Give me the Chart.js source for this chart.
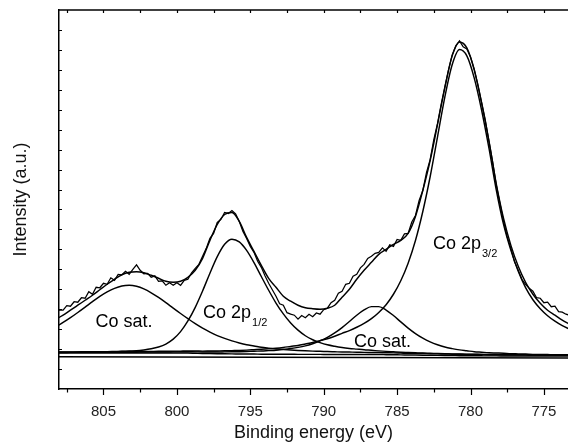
<!DOCTYPE html>
<html>
<head>
<meta charset="utf-8">
<script src="https://cdn.jsdelivr.net/npm/chart.js@4.4.1/dist/chart.umd.min.js"></script>
<style>
  html, body { margin: 0; padding: 0; background: #fff; }
  #wrap { width: 568px; height: 447px; position: relative; }
</style>
</head>
<body>
<div id="wrap"><canvas id="xps"></canvas></div>
<script>
// Co 2p XPS spectrum with peak fit (binding energy runs right-to-left)
const FONT = 'Arial, "Liberation Sans", sans-serif';

// fit grid (eV), 0.5 eV steps
const energies = [808.25, 807.75, 807.25, 806.75, 806.25, 805.75, 805.25, 804.75, 804.25, 803.75,
  803.25, 802.75, 802.25, 801.75, 801.25, 800.75, 800.25, 799.75, 799.25, 798.75,
  798.25, 797.75, 797.25, 796.75, 796.25, 795.75, 795.25, 794.75, 794.25, 793.75,
  793.25, 792.75, 792.25, 791.75, 791.25, 790.75, 790.25, 789.75, 789.25, 788.75,
  788.25, 787.75, 787.25, 786.75, 786.25, 785.75, 785.25, 784.75, 784.25, 783.75,
  783.25, 782.75, 782.25, 781.75, 781.25, 780.75, 780.25, 779.75, 779.25, 778.75,
  778.25, 777.75, 777.25, 776.75, 776.25, 775.75, 775.25, 774.75, 774.25, 773.75, 773.25];

// measured spectrum (eV), 0.25 eV steps
const rawEnergies = [808.25, 808, 807.75, 807.5, 807.25, 807, 806.75, 806.5, 806.25, 806,
  805.75, 805.5, 805.25, 805, 804.75, 804.5, 804.25, 804, 803.75, 803.5,
  803.25, 803, 802.75, 802.5, 802.25, 802, 801.75, 801.5, 801.25, 801,
  800.75, 800.5, 800.25, 800, 799.75, 799.5, 799.25, 799, 798.75, 798.5,
  798.25, 798, 797.75, 797.5, 797.25, 797, 796.75, 796.5, 796.25, 796,
  795.75, 795.5, 795.25, 795, 794.75, 794.5, 794.25, 794, 793.75, 793.5,
  793.25, 793, 792.75, 792.5, 792.25, 792, 791.75, 791.5, 791.25, 791,
  790.75, 790.5, 790.25, 790, 789.75, 789.5, 789.25, 789, 788.75, 788.5,
  788.25, 788, 787.75, 787.5, 787.25, 787, 786.75, 786.5, 786.25, 786,
  785.75, 785.5, 785.25, 785, 784.75, 784.5, 784.25, 784, 783.75, 783.5,
  783.25, 783, 782.75, 782.5, 782.25, 782, 781.75, 781.5, 781.25, 781,
  780.75, 780.5, 780.25, 780, 779.75, 779.5, 779.25, 779, 778.75, 778.5,
  778.25, 778, 777.75, 777.5, 777.25, 777, 776.75, 776.5, 776.25, 776,
  775.75, 775.5, 775.25, 775, 774.75, 774.5, 774.25, 774, 773.75, 773.5, 773.25];

const rawCounts = [78, 79, 79, 83.5, 83, 87.5, 87, 91.5, 91, 97.5,
  95, 102, 101.5, 106, 105, 111.5, 109, 115, 114.5, 118,
  115, 120, 124.5, 119, 115.5, 116, 112, 113.5, 108, 108.5,
  104, 106.5, 104, 106.5, 104, 109, 110, 116.5, 121, 125,
  133, 141, 151, 156, 167, 170, 177, 176, 179, 175.5,
  168, 158, 151, 143, 137, 128, 122, 113.5, 106, 99.5,
  93, 85.5, 84, 76.5, 75, 74, 70, 73.7, 71.5, 75,
  72.5, 76.2, 75, 79.5, 81, 86.5, 89, 96, 98, 105,
  106, 113, 115, 121.5, 125, 131, 133, 136, 137, 141.5,
  138, 144.5, 143, 150, 149, 155.5, 156, 167.5, 174, 189,
  199, 217, 230, 250, 266, 285.5, 303, 320, 335, 344,
  349, 343, 341, 333, 321, 305.5, 288, 270, 249, 228.5,
  205, 186.5, 168, 152.5, 141, 127.5, 119, 110, 105, 101,
  98, 91.5, 91, 86.5, 87, 82.5, 83, 77.5, 77, 75, 74];

const envelope = [70, 74, 79, 84, 89, 94, 99.5, 105, 110, 114.5,
  117, 117.5, 116.5, 114, 111, 108, 107, 108, 112, 119,
  131, 149, 165, 175, 177, 168, 152, 138, 124, 111,
  102, 93, 88, 84, 81.5, 80.5, 80, 81, 84, 92,
  100, 110, 119, 127, 135, 140, 145, 149, 156, 173,
  199, 229, 265, 302, 334, 348, 342, 320, 287, 249,
  206, 171, 144, 123, 107, 95, 86, 79, 74, 69, 65];

const satHigh = [62.2, 66.7, 71.5, 76.7, 82.1, 87.6, 92.8, 97.3, 100.9, 103.3,
  104.0, 103.0, 100.4, 96.5, 91.8, 86.6, 81.1, 75.7, 70.5, 65.5,
  61.0, 57.1, 53.6, 50.7, 48.2, 46.1, 44.4, 43.2, 41.9, 41.0,
  40.2, 39.6, 39.2, 38.7, 38.3, 38.0, 37.8, 37.5, 37.3, 37.1,
  37.0, 36.9, 36.7, 36.6, 36.5, 36.3, 36.2, 36.0, 35.8, 35.7,
  35.5, 35.4, 35.2, 35.1, 34.9, 34.8, 34.7, 34.6, 34.5, 34.4,
  34.3, 34.3, 34.2, 34.2, 34.2, 34.1, 34.1, 34.1, 34.0, 34.0, 34.0];

const p12 = [36.8, 36.8, 36.9, 37.0, 37.0, 37.2, 37.3, 37.4, 37.6, 37.8,
  38.1, 38.3, 39.1, 40.3, 42.1, 45.1, 50.0, 57.5, 68.2, 81.9,
  98.3, 116.1, 132.7, 145.1, 150.2, 147.5, 139.0, 126.8, 112.8, 99.0,
  86.2, 75.3, 66.2, 59.0, 53.4, 49.4, 46.5, 44.3, 42.8, 41.6,
  40.7, 40.0, 39.3, 38.8, 38.2, 37.7, 37.3, 36.9, 36.6, 36.3,
  36.0, 35.8, 35.6, 35.4, 35.2, 35.0, 34.9, 34.8, 34.7, 34.6,
  34.5, 34.4, 34.3, 34.3, 34.2, 34.1, 34.1, 34.0, 34.0, 34.0, 34.0];

const satLow = [36.6, 36.6, 36.7, 36.7, 36.7, 36.8, 36.8, 36.8, 36.8, 36.9,
  36.9, 36.9, 37.0, 37.0, 37.1, 37.1, 37.2, 37.3, 37.4, 37.2,
  37.1, 37.1, 37.1, 37.2, 37.3, 37.4, 37.6, 37.9, 38.1, 38.5,
  38.9, 39.7, 40.6, 41.7, 43.2, 45.4, 48.2, 51.7, 56.2, 61.6,
  67.7, 74.0, 79.3, 82.6, 82.6, 79.2, 73.7, 67.3, 61.1, 55.6,
  51.0, 47.3, 44.4, 42.1, 40.5, 39.2, 38.3, 37.4, 36.9, 36.4,
  36.1, 35.8, 35.4, 35.2, 35.0, 34.7, 34.6, 34.5, 34.4, 34.4, 34.3];

const p32 = [37.1, 37.2, 37.2, 37.2, 37.3, 37.3, 37.3, 37.4, 37.4, 37.5,
  37.5, 37.6, 37.6, 37.7, 37.8, 37.8, 37.9, 38.0, 38.1, 38.1,
  38.0, 38.1, 38.2, 38.3, 38.5, 38.7, 39.0, 39.4, 39.8, 40.3,
  40.9, 41.7, 42.7, 43.6, 45.1, 46.6, 48.5, 50.4, 52.9, 55.8,
  58.6, 61.9, 65.7, 70.5, 76.8, 84.5, 95.0, 108.6, 126.2, 148.9,
  178.0, 212.8, 252.6, 292.7, 325.1, 340.4, 334, 312, 280, 242,
  200, 165, 139, 118, 101.6, 89.5, 80.5, 73.5, 68.0, 63.5, 60.0];

const shirley = [36, 36, 36, 36, 36, 36, 36, 36, 36, 36,
  36, 36, 36, 36, 36, 36, 36, 36, 36, 35.8,
  35.6, 35.5, 35.4, 35.3, 35.2, 35.1, 35.0, 35.0, 34.9, 34.9,
  34.8, 34.8, 34.8, 34.7, 34.7, 34.7, 34.7, 34.6, 34.6, 34.6,
  34.6, 34.6, 34.5, 34.5, 34.5, 34.4, 34.3, 34.2, 34.1, 34.0,
  33.9, 33.8, 33.7, 33.6, 33.5, 33.4, 33.35, 33.3, 33.25, 33.2,
  33.2, 33.15, 33.1, 33.1, 33.05, 33.0, 33.0, 33.0, 33.0, 33.0, 33.0];

const linearBgEnergies = [808.25, 773.25];
const linearBg = [32.3, 31.0];

// axis ticks
const xTickValues = [807.5, 805, 802.5, 800, 797.5, 795, 792.5, 790, 787.5, 785, 782.5, 780, 777.5, 775];
const xLabelValues = [805, 800, 795, 790, 785, 780, 775];
const yTickValues = [20, 40, 60, 80, 100, 120, 140, 160, 180, 200, 220, 240, 260, 280, 300, 320, 340, 360];

// peak labels: [main, subscript, energy, intensity]
const peakLabels = [
  ['Co sat.', '', 805.55, 62],
  ['Co 2p', '1/2', 798.22, 71],
  ['Co sat.', '', 787.94, 42],
  ['Co 2p', '3/2', 782.56, 140],
];

const toPoints = (xs, ys) => xs.map((x, i) => ({ x, y: ys[i] }));

const curve = (label, xs, ys, width) => ({
  label,
  data: toPoints(xs, ys),
  borderColor: '#000',
  borderWidth: width,
  pointRadius: 0,
  fill: false,
  cubicInterpolationMode: 'monotone',
});

const framePlugin = {
  id: 'frame',
  afterDraw(chart) {
    const { ctx, chartArea: a, scales: { x, y } } = chart;
    ctx.save();
    ctx.strokeStyle = '#000';
    ctx.lineWidth = 1.5;
    ctx.beginPath();
    ctx.moveTo(a.left, a.top);
    ctx.lineTo(a.right, a.top);
    ctx.stroke();

    ctx.lineWidth = 1.2;
    ctx.beginPath();
    xTickValues.forEach(v => {
      const px = Math.round(x.getPixelForValue(v)) + 0.5;
      const len = xLabelValues.includes(v) ? 6 : 3.5;
      ctx.moveTo(px, a.bottom);
      ctx.lineTo(px, a.bottom + len);
      ctx.moveTo(px, a.top);
      ctx.lineTo(px, a.top + 3);
    });
    yTickValues.forEach(v => {
      const py = Math.round(y.getPixelForValue(v)) + 0.5;
      ctx.moveTo(a.left, py);
      ctx.lineTo(a.left + 3, py);
    });
    ctx.stroke();

    ctx.fillStyle = '#000';
    ctx.textBaseline = 'alphabetic';
    ctx.textAlign = 'left';
    peakLabels.forEach(([main, sub, e, v]) => {
      const px = x.getPixelForValue(e);
      const py = y.getPixelForValue(v);
      ctx.font = '18px ' + FONT;
      ctx.fillText(main, px, py);
      if (sub) {
        const w = ctx.measureText(main).width;
        ctx.font = '11px ' + FONT;
        ctx.fillText(sub, px + w + 1, py + 8);
      }
    });
    ctx.restore();
  },
};

new Chart(document.getElementById('xps'), {
  type: 'line',
  data: {
    datasets: [
      { ...curve('Raw', rawEnergies, rawCounts, 1.25), cubicInterpolationMode: 'default', tension: 0 },
      curve('Envelope', energies, envelope, 1.45),
      curve('Co sat. (high)', energies, satHigh, 1.45),
      curve('Co 2p1/2', energies, p12, 1.45),
      curve('Co sat. (low)', energies, satLow, 1.45),
      curve('Co 2p3/2', energies, p32, 1.45),
      curve('Background', energies, shirley, 1.45),
      curve('Linear bg', linearBgEnergies, linearBg, 1.45),
    ],
  },
  options: {
    responsive: true,
    maintainAspectRatio: false,
    animation: false,
    devicePixelRatio: 1,
    layout: { padding: { top: 10, left: 0, right: 0, bottom: 0 } },
    plugins: {
      legend: { display: false },
      tooltip: { enabled: false },
    },
    scales: {
      x: {
        type: 'linear',
        position: 'bottom',
        reverse: true,
        min: 773.36,
        max: 808.03,
        afterBuildTicks: axis => { axis.ticks = xTickValues.map(value => ({ value })); },
        afterFit: axis => {
          axis.height = 58;
          axis.paddingLeft = 0;
          axis.paddingRight = 0;
        },
        grid: { display: false },
        border: { display: true, color: '#000', width: 1.5 },
        ticks: {
          padding: 6,
          color: '#222',
          autoSkip: false,
          maxRotation: 0,
          font: { family: FONT, size: 15 },
          callback: v => xLabelValues.includes(v) ? String(v) : '',
        },
        title: {
          display: true,
          text: 'Binding energy (eV)',
          color: '#111',
          font: { family: FONT, size: 18 },
          padding: { top: 0, bottom: 3 },
        },
      },
      y: {
        min: 0,
        max: 380,
        afterBuildTicks: axis => { axis.ticks = yTickValues.map(value => ({ value })); },
        afterFit: axis => {
          axis.width = 59;
          axis.paddingTop = 0;
          axis.paddingBottom = 0;
        },
        grid: { display: false },
        border: { display: true, color: '#000', width: 1.5 },
        ticks: { display: false },
        title: {
          display: true,
          text: 'Intensity (a.u.)',
          color: '#111',
          font: { family: FONT, size: 18 },
          padding: { top: 10, bottom: 0 },
        },
      },
    },
  },
  plugins: [framePlugin],
});
</script>
</body>
</html>
